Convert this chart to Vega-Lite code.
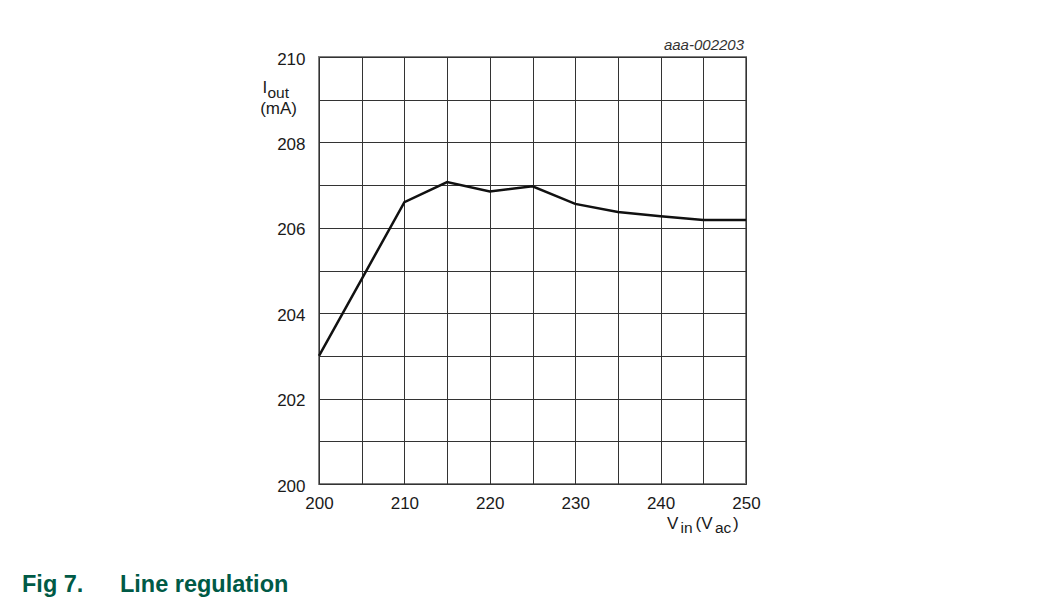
{
  "$schema": "https://vega.github.io/schema/vega-lite/v6.json",
  "width": 427,
  "height": 427,
  "autosize": {"type": "none"},
  "padding": {"left": 319, "top": 57, "right": 313, "bottom": 119},
  "background": "white",
  "config": {
    "font": "Liberation Sans",
    "view": {"stroke": "#808080", "strokeWidth": 2},
    "text": {"fontWeight": "normal", "strokeWidth": 0},
    "axis": {
      "domain": false,
      "ticks": false,
      "grid": true,
      "gridColor": "#333333",
      "gridWidth": 1,
      "gridOpacity": 1,
      "labelFont": "Liberation Sans",
      "labelFontSize": 17,
      "labelColor": "#1a1a1a",
      "labelFlush": false,
      "labelOverlap": false
    }
  },
  "title": {
    "text": "Fig 7.\u2002\u2002\u00a0\u00a0Line regulation",
    "orient": "bottom",
    "anchor": "start",
    "frame": "group",
    "dx": -297,
    "offset": 36,
    "font": "Liberation Sans",
    "fontSize": 23.5,
    "fontWeight": "bold",
    "color": "#005a46"
  },
  "layer": [
    {
      "data": {
        "values": [
          {"vin": 200, "iout": 203.0},
          {"vin": 205, "iout": 204.8},
          {"vin": 210, "iout": 206.6},
          {"vin": 215, "iout": 207.07},
          {"vin": 220, "iout": 206.85},
          {"vin": 225, "iout": 206.97},
          {"vin": 230, "iout": 206.56},
          {"vin": 235, "iout": 206.37},
          {"vin": 240, "iout": 206.27},
          {"vin": 245, "iout": 206.18},
          {"vin": 250, "iout": 206.18}
        ]
      },
      "mark": {"type": "line", "color": "#111111", "strokeWidth": 2.5, "strokeJoin": "miter"},
      "encoding": {
        "x": {
          "field": "vin",
          "type": "quantitative",
          "scale": {"domain": [200, 250], "nice": false, "zero": false},
          "axis": {
            "title": null,
            "values": [200, 205, 210, 215, 220, 225, 230, 235, 240, 245, 250],
            "labelExpr": "datum.value % 10 === 0 ? datum.label : ''",
            "labelPadding": 11
          }
        },
        "y": {
          "field": "iout",
          "type": "quantitative",
          "scale": {"domain": [200, 210], "nice": false, "zero": false},
          "axis": {
            "title": null,
            "values": [200, 201, 202, 203, 204, 205, 206, 207, 208, 209, 210],
            "labelExpr": "datum.value % 2 === 0 ? datum.label : ''",
            "labelPadding": 14,
            "labelOffset": 2
          }
        }
      }
    },
    {
      "data": {"values": [{}]},
      "mark": {"type": "text", "text": "aaa-002203", "align": "right", "baseline": "alphabetic", "dx": -2, "dy": -7.5, "fontSize": 15, "fontStyle": "italic", "fill": "#333333"},
      "encoding": {"x": {"datum": 250}, "y": {"datum": 210}}
    },
    {
      "data": {"values": [{}]},
      "mark": {"type": "text", "text": "I", "align": "left", "baseline": "alphabetic", "dx": -56.5, "dy": 35.7, "fontSize": 17, "fill": "#1a1a1a"},
      "encoding": {"x": {"datum": 200}, "y": {"datum": 210}}
    },
    {
      "data": {"values": [{}]},
      "mark": {"type": "text", "text": "out", "align": "left", "baseline": "alphabetic", "dx": -51.5, "dy": 41, "fontSize": 15.5, "fill": "#1a1a1a"},
      "encoding": {"x": {"datum": 200}, "y": {"datum": 210}}
    },
    {
      "data": {"values": [{}]},
      "mark": {"type": "text", "text": "(mA)", "align": "right", "baseline": "alphabetic", "dx": -22, "dy": 57, "fontSize": 17, "fill": "#1a1a1a"},
      "encoding": {"x": {"datum": 200}, "y": {"datum": 210}}
    },
    {
      "data": {"values": [{}]},
      "mark": {"type": "text", "text": "V", "align": "left", "baseline": "alphabetic", "dx": -79, "dy": 45, "fontSize": 17, "fill": "#1a1a1a"},
      "encoding": {"x": {"datum": 250}, "y": {"datum": 200}}
    },
    {
      "data": {"values": [{}]},
      "mark": {"type": "text", "text": "in", "align": "left", "baseline": "alphabetic", "dx": -65.5, "dy": 49, "fontSize": 15.5, "fill": "#1a1a1a"},
      "encoding": {"x": {"datum": 250}, "y": {"datum": 200}}
    },
    {
      "data": {"values": [{}]},
      "mark": {"type": "text", "text": "(V", "align": "left", "baseline": "alphabetic", "dx": -50.5, "dy": 45, "fontSize": 17, "fill": "#1a1a1a"},
      "encoding": {"x": {"datum": 250}, "y": {"datum": 200}}
    },
    {
      "data": {"values": [{}]},
      "mark": {"type": "text", "text": "ac", "align": "left", "baseline": "alphabetic", "dx": -31, "dy": 49, "fontSize": 15.5, "fill": "#1a1a1a"},
      "encoding": {"x": {"datum": 250}, "y": {"datum": 200}}
    },
    {
      "data": {"values": [{}]},
      "mark": {"type": "text", "text": ")", "align": "left", "baseline": "alphabetic", "dx": -13, "dy": 45, "fontSize": 17, "fill": "#1a1a1a"},
      "encoding": {"x": {"datum": 250}, "y": {"datum": 200}}
    }
  ]
}
